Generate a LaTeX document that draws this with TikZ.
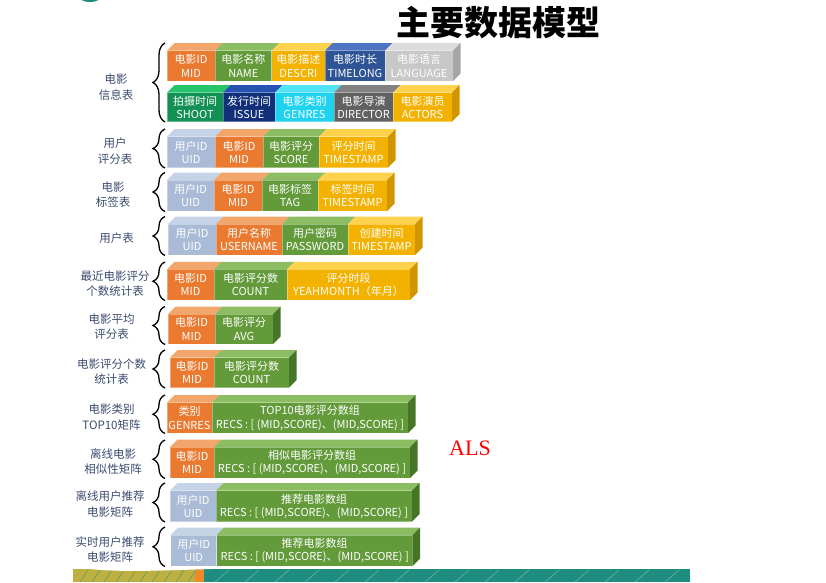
\documentclass[tikz,border=0pt]{standalone}
\usepackage{fontspec}
\newfontfamily\cjk{Noto Sans CJK SC}
\newfontfamily\alsfont{Liberation Serif}
\usetikzlibrary{decorations.pathreplacing}
\definecolor{orF}{HTML}{E97A30}\definecolor{orT}{HTML}{F3A66C}\definecolor{orS}{HTML}{C0601E}
\definecolor{grF}{HTML}{639B3B}\definecolor{grT}{HTML}{8DBD62}\definecolor{grS}{HTML}{467528}
\definecolor{gdF}{HTML}{F3B200}\definecolor{gdT}{HTML}{FFD24D}\definecolor{gdS}{HTML}{D19500}
\definecolor{nvF}{HTML}{2E5496}\definecolor{nvT}{HTML}{4C74C2}
\definecolor{gyF}{HTML}{C8C8C8}\definecolor{gyT}{HTML}{DCDCDC}\definecolor{gyS}{HTML}{A6A6A6}
\definecolor{sgF}{HTML}{139154}\definecolor{sgT}{HTML}{27C46C}
\definecolor{isF}{HTML}{12307A}\definecolor{isT}{HTML}{2653B2}
\definecolor{cyF}{HTML}{1ED2F0}\definecolor{cyT}{HTML}{52E3F8}
\definecolor{dgF}{HTML}{616161}\definecolor{dgT}{HTML}{828282}
\definecolor{ubF}{HTML}{A9BBD6}\definecolor{ubT}{HTML}{C5D3E7}
\definecolor{lblc}{RGB}{60,75,110}
\definecolor{stripT}{HTML}{1E8C7E}\definecolor{stripG}{HTML}{BDB040}\definecolor{stripO}{HTML}{EE8A2A}
\tikzset{
  cellbox/.style={rectangle, inner sep=0pt, outer sep=0pt, draw=white, draw opacity=0.35, line width=0.5pt,
    align=center, text=white, font=\cjk\fontsize{11}{13.3}\selectfont},
  bracestyle/.style={decorate, decoration={brace, amplitude=12pt, aspect=0.5}, line width=1.3pt, black},
  lbl/.style={align=center, text=lblc, font=\cjk\fontsize{11.5}{15.5}\selectfont},
}
\newcommand{\mkcell}[8]{%
  \node[cellbox, fill=#6, minimum width={(#3-#2)*1pt}, minimum height={(#5-#4)*1pt}] (#1) at ({(#2+#3)/2},{(#4+#5)/2}) {#8};
  \fill[#7] (#1.north west) -- ++(7.5,-7.5) -- ([shift={(7.5,-7.5)}]#1.north east) -- (#1.north east) -- cycle;
}
\newcommand{\mkside}[2]{%
  \fill[#2] (#1.north east) -- ++(7.5,-7.5) -- ([shift={(7.5,-7.5)}]#1.south east) -- (#1.south east) -- cycle;
}
\newcommand{\mkbrace}[3]{%
  \coordinate (#1t) at (165,#2); \coordinate (#1b) at (165,#3);
  \draw[bracestyle] (#1b) -- (#1t);
}
\begin{document}
\begin{tikzpicture}[x=1pt,y=-1pt]
\useasboundingbox (0,0) rectangle (826,582);
% logo remnant
\fill[stripT] (90,-7) ellipse (14 and 9);
% title
\node[font=\cjk\bfseries\fontsize{34}{36}\selectfont] (title) at (498,23) {主要数据模型};
% ALS
\node[text=red, font=\alsfont\fontsize{22}{24}\selectfont] (als) at (470,448) {ALS};
% bottom strip
\fill[stripT] (73,569) rectangle (690,582);
\fill[stripG] (73,569) rectangle (195,582);
\fill[stripO] (195,569) rectangle (204,582);
\foreach \xx in {80,92,...,188} {\draw[stripT!60!stripG, line width=0.6pt] (\xx,582) -- (\xx+8,570);}
\foreach \xx in {215,245,...,680} {\draw[stripT!60!white, line width=0.5pt] (\xx,582) -- (\xx+14,570);}
\fill[white] (73,566) .. controls (100,573) and (150,571) .. (210,569) -- (210,566) -- cycle;

% Row 1a
\mkcell{a1}{167}{215}{50.7}{81}{orF}{orT}{电影ID\\MID}
\mkcell{a2}{215}{271.7}{50.7}{81}{grF}{grT}{电影名称\\NAME}
\mkcell{a3}{271.7}{325}{50.7}{81}{gdF}{gdT}{电影描述\\DESCRI}
\mkcell{a4}{325}{385}{50.7}{81}{nvF}{nvT}{电影时长\\TIMELONG}
\mkcell{a5}{385}{453}{50.7}{81}{gyF}{gyT}{电影语言\\LANGUAGE}
\mkside{a5}{gyS}
% Row 1b
\mkcell{b1}{167}{223}{92.7}{121.7}{sgF}{sgT}{拍摄时间\\SHOOT}
\mkcell{b2}{223}{275}{92.7}{121.7}{isF}{isT}{发行时间\\ISSUE}
\mkcell{b3}{275}{334}{92.7}{121.7}{cyF}{cyT}{电影类别\\GENRES}
\mkcell{b4}{334}{393}{92.7}{121.7}{dgF}{dgT}{电影导演\\DIRECTOR}
\mkcell{b5}{393}{452}{92.7}{121.7}{gdF}{gdT}{电影演员\\ACTORS}
\mkside{b5}{gdS}
\mkbrace{br1}{43}{122}
\node[lbl] (L1) at (116,87) {电影\\信息表};

% Row 2
\mkcell{c1}{167}{215}{136.7}{167.7}{ubF}{ubT}{用户ID\\UID}
\mkcell{c2}{215}{263}{136.7}{167.7}{orF}{orT}{电影ID\\MID}
\mkcell{c3}{263}{319}{136.7}{167.7}{grF}{grT}{电影评分\\SCORE}
\mkcell{c4}{319}{388}{136.7}{167.7}{gdF}{gdT}{评分时间\\TIMESTAMP}
\mkside{c4}{gdS}
\mkbrace{br2}{129}{168}
\node[lbl] (L2) at (115,151) {用户\\评分表};

% Row 3
\mkcell{d1}{167}{214}{180}{211}{ubF}{ubT}{用户ID\\UID}
\mkcell{d2}{214}{262}{180}{211}{orF}{orT}{电影ID\\MID}
\mkcell{d3}{262}{318}{180}{211}{grF}{grT}{电影标签\\TAG}
\mkcell{d4}{318}{387}{180}{211}{gdF}{gdT}{标签时间\\TIMESTAMP}
\mkside{d4}{gdS}
\mkbrace{br3}{172.5}{211.5}
\node[lbl] (L3) at (113,194.5) {电影\\标签表};

% Row 4
\mkcell{e1}{168}{216}{224}{255}{ubF}{ubT}{用户ID\\UID}
\mkcell{e2}{216}{282}{224}{255}{orF}{orT}{用户名称\\USERNAME}
\mkcell{e3}{282}{348}{224}{255}{grF}{grT}{用户密码\\PASSWORD}
\mkcell{e4}{348}{415}{224}{255}{gdF}{gdT}{创建时间\\TIMESTAMP}
\mkside{e4}{gdS}
\mkbrace{br4}{216.5}{255.5}
\node[lbl] (L4) at (116.5,238.5) {用户表};

% Row 5
\mkcell{f1}{167}{214}{269.3}{300}{orF}{orT}{电影ID\\MID}
\mkcell{f2}{214}{287}{269.3}{300}{grF}{grT}{电影评分数\\COUNT}
\mkcell{f3}{287}{410}{269.3}{300}{gdF}{gdT}{评分时段\\YEAHMONTH（年月）}
\mkside{f3}{gdS}
\mkbrace{br5}{262}{300.5}
\node[lbl] (L5) at (115,283.5) {最近电影评分\\个数统计表};

% Row 6
\mkcell{g1}{168}{215}{314}{344}{orF}{orT}{电影ID\\MID}
\mkcell{g2}{215}{273}{314}{344}{grF}{grT}{电影评分\\AVG}
\mkside{g2}{grS}
\mkbrace{br6}{306.5}{344.5}
\node[lbl] (L6) at (111.5,326.5) {电影平均\\评分表};

% Row 7
\mkcell{h1}{170}{214}{357.7}{387.7}{orF}{orT}{电影ID\\MID}
\mkcell{h2}{214}{289}{357.7}{387.7}{grF}{grT}{电影评分数\\COUNT}
\mkside{h2}{grS}
\mkbrace{br7}{350}{388}
\node[lbl] (L7) at (111.5,371.5) {电影评分个数\\统计表};

% Row 8
\mkcell{i1}{167}{212}{402.7}{433}{orF}{orT}{类别\\GENRES}
\mkcell{i2}{212}{408}{402.7}{433}{grF}{grT}{TOP10电影评分数组\\RECS : [ (MID,SCORE)、(MID,SCORE) ]}
\mkside{i2}{grS}
\mkbrace{br8}{395}{433.5}
\node[lbl] (L8) at (111.5,417) {电影类别\\TOP10矩阵};

% Row 9
\mkcell{j1}{170}{214}{447}{478}{orF}{orT}{电影ID\\MID}
\mkcell{j2}{214}{410}{447}{478}{grF}{grT}{相似电影评分数组\\RECS : [ (MID,SCORE)、(MID,SCORE) ]}
\mkside{j2}{grS}
\mkbrace{br9}{440}{478.5}
\node[lbl] (L9) at (113,461.5) {离线电影\\相似性矩阵};

% Row 10
\mkcell{k1}{170}{216}{490.7}{521.7}{ubF}{ubT}{用户ID\\UID}
\mkcell{k2}{216}{412}{490.7}{521.7}{grF}{grT}{推荐电影数组\\RECS : [ (MID,SCORE)、(MID,SCORE) ]}
\mkside{k2}{grS}
\mkbrace{br10}{483}{522}
\node[lbl] (L10) at (110,504) {离线用户推荐\\电影矩阵};

% Row 11
\mkcell{l1}{170.7}{216.7}{535}{566}{ubF}{ubT}{用户ID\\UID}
\mkcell{l2}{216.7}{412.7}{535}{566}{grF}{grT}{推荐电影数组\\RECS : [ (MID,SCORE)、(MID,SCORE) ]}
\mkside{l2}{grS}
\mkbrace{br11}{527}{566.5}
\node[lbl] (L11) at (110,549.5) {实时用户推荐\\电影矩阵};
\end{tikzpicture}
\end{document}
